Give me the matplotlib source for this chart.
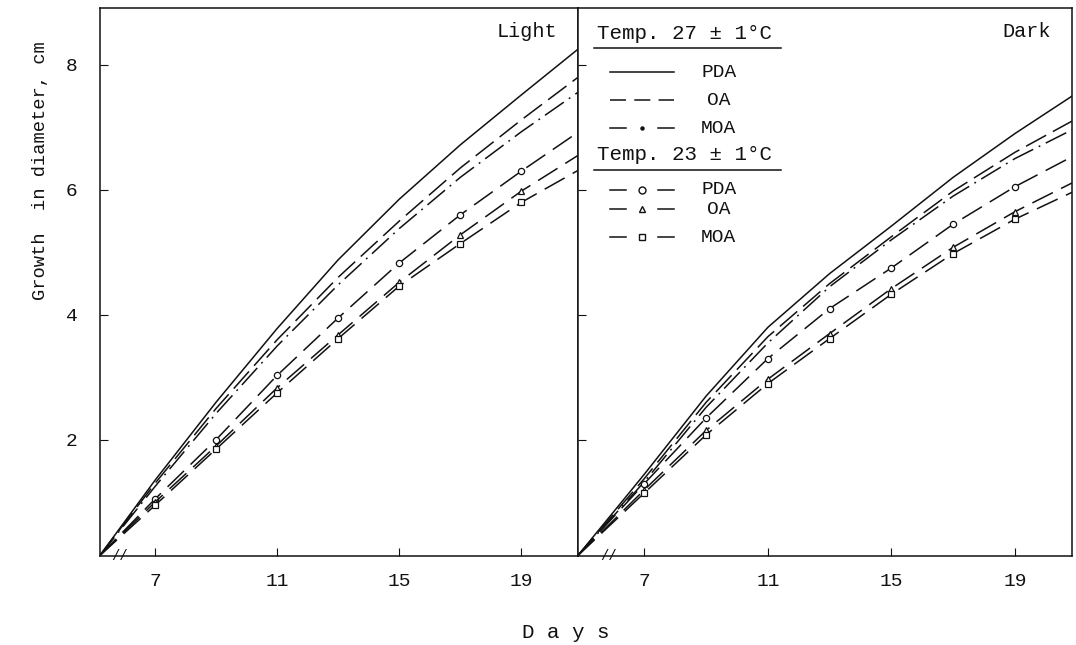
import matplotlib.pyplot as plt
from matplotlib.lines import Line2D

plt.rcParams['font.family'] = ['Liberation Mono', 'DejaVu Sans Mono']

# Дни (ось X), свет и темнота
days_light = [5.2, 7, 9, 11, 13, 15, 17, 19, 20.85]
days_dark = [4.85, 7, 9, 11, 13, 15, 17, 19, 20.85]

# Рост диаметра, см — свет
light_pda27 = [0.15, 1.35, 2.6, 3.78, 4.88, 5.85, 6.72, 7.52, 8.25]
light_oa27 = [0.15, 1.3, 2.5, 3.6, 4.6, 5.5, 6.35, 7.12, 7.8]
light_moa27 = [0.15, 1.25, 2.42, 3.5, 4.48, 5.38, 6.2, 6.93, 7.56]
light_pda23 = [0.15, 1.05, 2.0, 3.03, 3.95, 4.83, 5.6, 6.3, 6.92]
light_oa23 = [0.15, 1.0, 1.9, 2.83, 3.68, 4.52, 5.28, 5.98, 6.55]
light_moa23 = [0.15, 0.95, 1.85, 2.75, 3.62, 4.46, 5.14, 5.8, 6.31]

# Рост диаметра, см — темнота
dark_pda27 = [0.15, 1.45, 2.7, 3.8, 4.66, 5.42, 6.2, 6.9, 7.5]
dark_oa27 = [0.15, 1.38, 2.6, 3.65, 4.5, 5.25, 5.98, 6.6, 7.1]
dark_moa27 = [0.15, 1.33, 2.52, 3.55, 4.45, 5.2, 5.9, 6.5, 6.96]
dark_pda23 = [0.15, 1.3, 2.35, 3.3, 4.1, 4.75, 5.45, 6.05, 6.53]
dark_oa23 = [0.15, 1.2, 2.15, 2.97, 3.7, 4.42, 5.08, 5.65, 6.11]
dark_moa23 = [0.15, 1.15, 2.08, 2.9, 3.62, 4.33, 4.98, 5.53, 5.96]

x_ticks = [7, 11, 15, 19]
y_ticks = [2, 4, 6, 8]
media = ['PDA', 'OA', 'MOA']
temp_titles = ['Temp. 27 ± 1°C', 'Temp. 23 ± 1°C']

ink = '#111111'
styles27 = [dict(linestyle='-'),
            dict(dashes=(15, 5)),
            dict(dashes=(15, 4, 1.2, 4))]
styles23 = [dict(dashes=(15, 6), marker='o'),
            dict(dashes=(15, 6), marker='^'),
            dict(dashes=(15, 6), marker='s')]
mk = dict(markersize=4.5, markerfacecolor='white', markeredgecolor=ink,
          markeredgewidth=0.9, markevery=[1, 2, 3, 4, 5, 6, 7])

fig = plt.figure(figsize=(10.76, 6.45), dpi=100)
ax_l = fig.add_axes([0.0929, 0.138, 0.4442, 0.8496])
ax_r = fig.add_axes([0.5372, 0.138, 0.4591, 0.8496])


def draw_panel(ax, days, s27, s23, xlim, title):
    for vals, st in zip(s27, styles27):
        ax.plot(days, vals, color=ink, linewidth=1.1, **st)
    for vals, st in zip(s23, styles23):
        ax.plot(days, vals, color=ink, linewidth=1.1, **st, **mk)
    ax.set_xlim(*xlim)
    ax.set_ylim(0.14, 8.91)
    ax.set_xticks(x_ticks)
    ax.set_yticks(y_ticks)
    ax.tick_params(direction='in', length=6, width=0.8, labelsize=14,
                   colors=ink)
    ax.tick_params(axis='x', pad=12)
    ax.tick_params(axis='y', pad=16)
    for sp in ax.spines.values():
        sp.set_linewidth(1.1)
        sp.set_color(ink)
    ax.text(0.957, 0.957, title, transform=ax.transAxes, ha='right',
            va='center', fontsize=14.5, color=ink)


draw_panel(ax_l, days_light,
           [light_pda27, light_oa27, light_moa27],
           [light_pda23, light_oa23, light_moa23], (5.2, 20.85), 'Light')
draw_panel(ax_r, days_dark,
           [dark_pda27, dark_oa27, dark_moa27],
           [dark_pda23, dark_oa23, dark_moa23], (4.85, 20.85), 'Dark')
ax_r.tick_params(axis='y', labelleft=False)

# разрыв оси
ax_l.text(0.042, 0.0, '//', transform=ax_l.transAxes, ha='center',
          va='center', fontsize=10, color=ink)
ax_r.text(0.061, 0.0, '//', transform=ax_r.transAxes, ha='center',
          va='center', fontsize=10, color=ink)

# легенда вручную
head_y = [0.954, 0.732]
under_y = [0.927, 0.704]
rows_y = [[0.883, 0.832, 0.781], [0.668, 0.633, 0.582]]
legend_marks = [[None, None, '.'], ['o', '^', 's']]
tr = ax_r.transAxes


def seg(x0, x1, y, **kw):
    ax_r.add_line(Line2D([x0, x1], [y, y], transform=tr, color=ink,
                         linewidth=1.1, **kw))


for k in range(2):
    ax_r.text(0.038, head_y[k], temp_titles[k], transform=tr, ha='left',
              va='center', fontsize=15, color=ink)
    seg(0.032, 0.41, under_y[k])
    for i, name in enumerate(media):
        y = rows_y[k][i]
        m = legend_marks[k][i]
        if k == 0 and i == 0:
            seg(0.065, 0.195, y)
        elif k == 0 and i == 1:
            seg(0.065, 0.195, y, dashes=(10.5, 5.4))
        else:
            seg(0.065, 0.098, y)
            seg(0.162, 0.195, y)
            if m == '.':
                ax_r.add_line(Line2D([0.13], [y], transform=tr, marker='o',
                                     markersize=2.2, color=ink,
                                     linestyle='none'))
            else:
                ax_r.add_line(Line2D([0.13], [y], transform=tr, marker=m,
                                     markersize=5, markerfacecolor='white',
                                     markeredgecolor=ink, markeredgewidth=1.0,
                                     linestyle='none'))
        ax_r.text(0.285, y, name, transform=tr, ha='center', va='center',
                  fontsize=14, color=ink)

fig.text(0.038, 0.735, 'Growth  in diameter, cm', rotation=90, ha='center',
         va='center', fontsize=13.5, color=ink)
fig.text(0.526, 0.019, 'D a y s', ha='center', va='center', fontsize=15,
         color=ink)

fig.savefig('out.png', dpi=100)
